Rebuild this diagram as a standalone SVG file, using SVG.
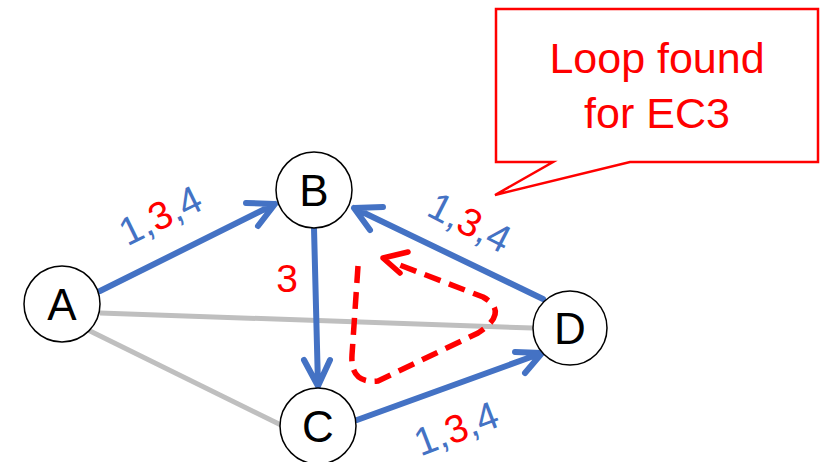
<svg xmlns="http://www.w3.org/2000/svg" width="828" height="462" viewBox="0 0 828 462">
<style>
.node circle{fill:#fff;stroke:#000;stroke-width:1.5}
.node text{font-family:"Liberation Sans",Arial,sans-serif;font-size:44px;fill:#000;text-anchor:middle}
.blue{fill:none;stroke:#4472C4;stroke-width:6;stroke-linecap:round;stroke-linejoin:round}
.gray{fill:none;stroke:#BFBFBF;stroke-width:5}
.loop{fill:none;stroke:#FF0000;stroke-width:5.5;stroke-dasharray:17 9}
.loophead{fill:none;stroke:#FF0000;stroke-width:5.5;stroke-linecap:round;stroke-linejoin:round}
.lbl{font-family:"Liberation Sans",Arial,sans-serif;font-size:39px;fill:#4472C4;text-anchor:middle}
.r{fill:#FF0000}
.call{fill:#fff;stroke:#FF0000;stroke-width:2.5}
.calltext{font-family:"Liberation Sans",Arial,sans-serif;font-size:43px;fill:#FF0000;text-anchor:middle}
</style>
<g id="connectors">
<line class="gray" x1="100" y1="313" x2="533" y2="328"/>
<line class="gray" x1="88" y1="330" x2="281" y2="425"/>
<path class="blue" d="M100 291 L275 204 M246 203 L275 204 L258 226"/>
<path class="blue" d="M314 228 L318 386 M304 360 L318 386 L330 360"/>
<path class="blue" d="M357 420 L542 353 M515 352 L542 353 L525 373"/>
<path class="blue" d="M543 299 L354 208 M383 207 L354 208 L370 230"/>
<path class="loop" d="M358 266 L352 355 Q350 384 378 381 L478 333 Q510 312 483 297 L392 262"/>
<path class="loophead" d="M408 252 L383 258 L400 273"/>
</g>
<g id="labels">
<text class="lbl" transform="translate(160,215) rotate(-26)" y="14">1,<tspan class="r">3</tspan>,4</text>
<text class="lbl" transform="translate(470,222) rotate(27)" y="14">1,<tspan class="r">3</tspan>,4</text>
<text class="lbl" transform="translate(456,428) rotate(-21)" y="14">1,<tspan class="r">3</tspan>,4</text>
<text class="lbl r" x="287" y="292">3</text>
</g>
<g id="A" class="node"><circle cx="62" cy="304" r="38"/><text x="62" y="320">A</text></g>
<g id="B" class="node"><circle cx="314" cy="190" r="38"/><text x="314" y="206">B</text></g>
<g id="C" class="node"><circle cx="318" cy="426" r="38"/><text x="318" y="442">C</text></g>
<g id="D" class="node"><circle cx="570" cy="328" r="37"/><text x="570" y="344">D</text></g>
<g id="callout">
<polygon class="call" points="496,9 818,9 818,162 630,162 495,195 553,162 496,162"/>
<text class="calltext" x="657" y="73">Loop found</text>
<text class="calltext" x="657" y="128">for EC3</text>
</g>
</svg>
